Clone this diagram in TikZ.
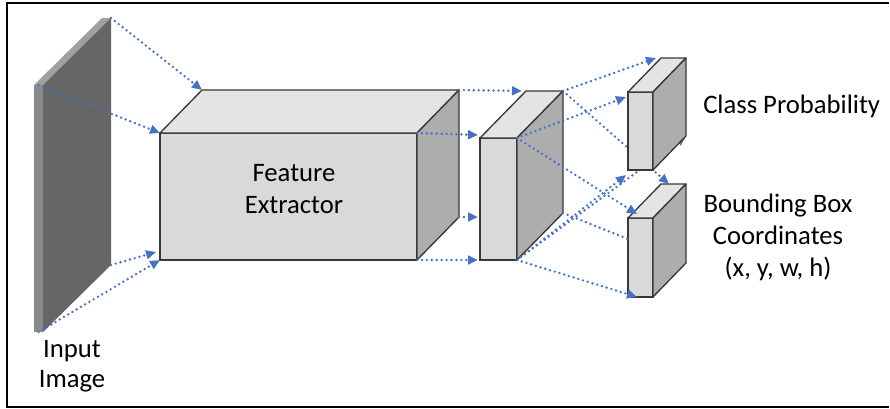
\documentclass[tikz,border=0pt]{standalone}
\usepackage{fontspec}
\setmainfont{Carlito}
\usetikzlibrary{arrows.meta, calc, fit}
\definecolor{flowblue}{HTML}{4472C4}
\definecolor{edge}{HTML}{383838}
\definecolor{facefront}{HTML}{D9D9D9}
\definecolor{facetop}{HTML}{E4E4E4}
\definecolor{faceside}{HTML}{ADADAD}
\definecolor{slabfront}{HTML}{8A8A8A}
\definecolor{slabtop}{HTML}{A0A0A0}
\definecolor{slabside}{HTML}{666666}
\pgfdeclarelayer{front}
\pgfsetlayers{main,front}

\begin{document}
\begin{tikzpicture}[
  x=0.75pt, y=-0.75pt,
  every node/.style={font=\fontsize{20}{24}\selectfont, inner sep=0pt},
  face/.style={
    rectangle, draw=edge, line width=1pt, fill=facefront,
    inner sep=0pt, outer sep=0pt,
  },
  topface/.style={draw=edge, line width=1pt, fill=facetop, line join=round},
  sideface/.style={draw=edge, line width=1pt, fill=faceside, line join=round},
  flow/.style={
    -{Triangle[length=7.5pt,width=6.5pt]}, draw=flowblue, line width=2pt,
    dash pattern=on 0pt off 3.7pt, line cap=round,
  },
]
\useasboundingbox (0,0) rectangle (890,408);
\draw[line width=1.5pt] (889,3) -- (7,3) -- (7,407) -- (889,407);

% input image slab
\node[fit={(34,85) (43,332)}, fill=slabfront, outer sep=0pt] (slab) {};
\coordinate (slab-btr) at ($(slab.north east)+(68,-67)$);
\coordinate (slab-bbr) at ($(slab.south east)+(68,-67)$);
\fill[slabtop] (slab.north west) -- ++(68,-67) -- (slab-btr) -- (slab.north east) -- cycle;
\fill[slabside] (slab.north east) -- (slab-btr) -- (slab-bbr) -- (slab.south east) -- cycle;
\node[align=center, font=\fontsize{20}{22.5}\selectfont] (input) at (72,366) {Input\\Image};

% cuboids
\node[face, fit={(160,133) (417,260)}] (fe)  {};
\node[face, fit={(480,138) (517,260)}] (mid) {};
\node[face, fit={(628,218) (653,297)}] (lo)  {};
\foreach \b/\dx/\dy in {fe/42/43, mid/46/47, lo/33/34} {
  \coordinate (\b-btl) at ($(\b.north west)+(\dx,-\dy)$);
  \coordinate (\b-btr) at ($(\b.north east)+(\dx,-\dy)$);
  \coordinate (\b-bbr) at ($(\b.south east)+(\dx,-\dy)$);
  \draw[topface]  (\b.north west) -- (\b-btl) -- (\b-btr) -- (\b.north east) -- cycle;
  \draw[sideface] (\b.north east) -- (\b-btr) -- (\b-bbr) -- (\b.south east) -- cycle;
}
\begin{pgfonlayer}{front}
  \node[face, fit={(628,92) (653,170)}] (up) {};
  \coordinate (up-btl) at ($(up.north west)+(33,-34)$);
  \coordinate (up-btr) at ($(up.north east)+(33,-34)$);
  \coordinate (up-bbr) at ($(up.south east)+(33,-34)$);
  \draw[topface]  (up.north west) -- (up-btl) -- (up-btr) -- (up.north east) -- cycle;
  \draw[sideface] (up.north east) -- (up-btr) -- (up-bbr) -- (up.south east) -- cycle;
\end{pgfonlayer}

\node[align=center] (fe-label) at (294,189) {Feature\\Extractor};
\node[anchor=west]  (cls)      at (703,106) {Class Probability};
\node[align=center] (bbox)     at (778,237) {Bounding Box\\Coordinates\\(x, y, w, h)};

% image -> feature extractor
\draw[flow] (slab-btr)    -- (fe-btl);
\draw[flow] (slab.north)  -- (fe.north west);
\draw[flow] (slab-bbr)    -- ($(fe.south west)+(-4,-8)$);
\draw[flow] (slab.south)  -- (fe.south west);

% feature extractor -> middle block
\draw[flow] (fe-btr)        -- ($(mid-btl)+(-4,0)$);
\draw[flow] (fe.north east) -- ($(mid.north west)+(-2,-3)$);
\draw[flow] (fe-bbr)        -- ($(mid.west |- fe-bbr)+(-2,0)$);
\draw[flow] (fe.south east) -- ($(mid.south west)+(-2,0)$);

% middle block -> heads
\draw[flow] (mid-btr)        -- ($(up-btl)+(-5,0)$);
\draw[flow] (mid.north east) -- ($(up.north west)+(-2,5)$);
\draw[flow] (mid.south east) -- ($(up.south west)+(-2,5)$);
\draw[flow] (mid.south east) -- (up-bbr);
\draw[flow] (mid-btr)        -- ($(lo-btl)+(8,0)$);
\draw[flow] (mid.north east) -- ($(lo.north west)+(9,-4)$);
\draw[flow, -] (mid-bbr)     -- ($(lo.north west)+(0,21)$);
\draw[flow] (mid.south east) -- ($(lo.south west)+(9,0)$);
\end{tikzpicture}
\end{document}
